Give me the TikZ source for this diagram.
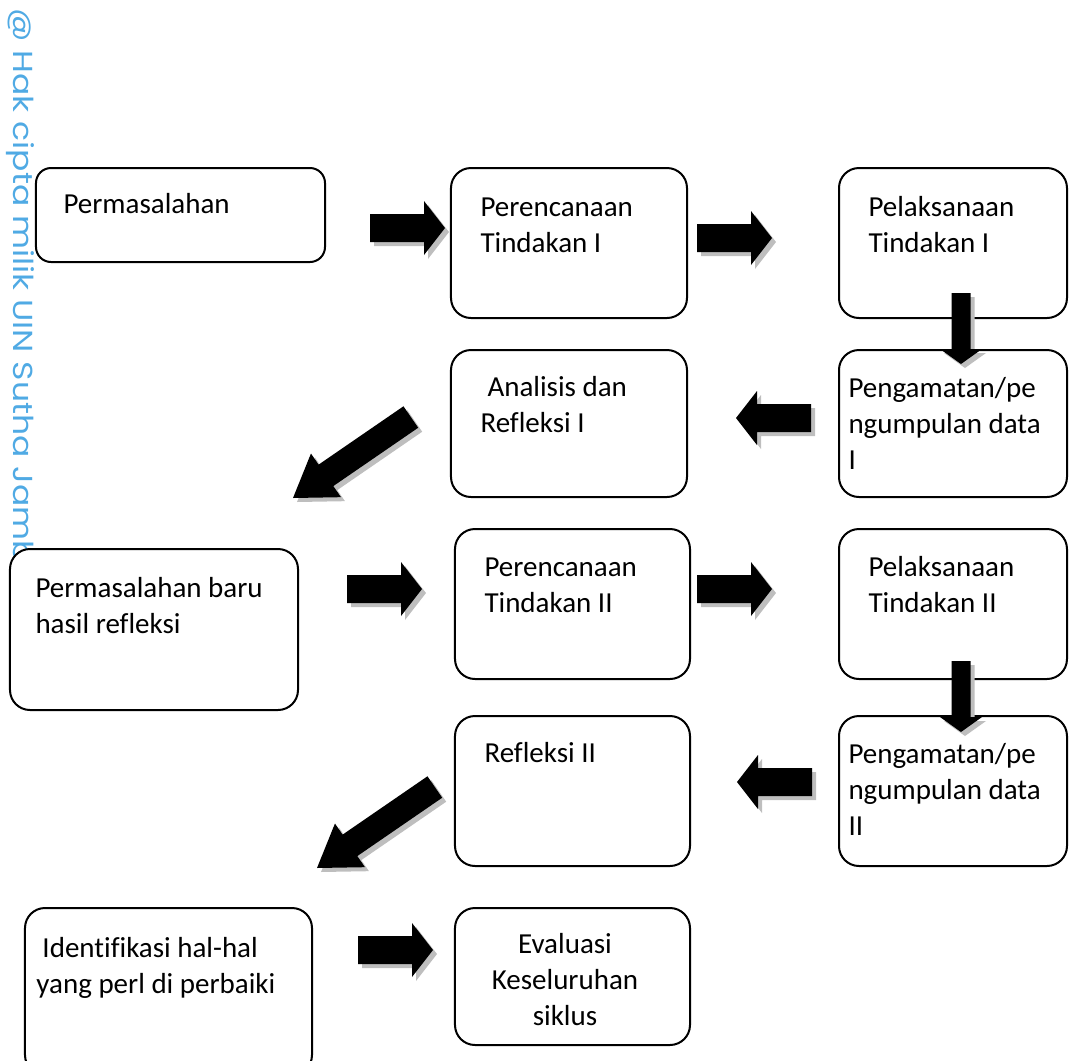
\documentclass[tikz,border=0pt]{standalone}
\usepackage{fontspec}
\usepackage{graphicx}
\setmainfont{Carlito}[Ligatures=NoCommon]
\newfontfamily\wmfont{Poppins}
\definecolor{wmblue}{RGB}{80,170,228}
\definecolor{shadowgray}{RGB}{190,190,190}
\newcommand\leftlines[1]{\begin{tabular}[t]{@{}l@{}}#1\end{tabular}}
\newcommand\centerlines[1]{\begin{tabular}[t]{@{}c@{}}#1\end{tabular}}
\tikzset{
  box/.style={draw, line width=0.8pt, fill=white, rounded corners=8pt, inner sep=0pt},
  lbl/.style={font=\fontsize{11.6}{14.4}\selectfont, anchor=base west, inner sep=0pt},
  clbl/.style={font=\fontsize{11.6}{14.4}\selectfont, anchor=base, inner sep=0pt},
  arrowbody/.style={fill=black},
  arrowshadow/.style={fill=shadowgray},
}
% #1 name, #2 x, #3 y (tip), #4 angle, #5 length, #6 shaft width, #7 head width, #8 head length (all in pt)
\newcommand\blockarrow[8]{%
  \coordinate (#1) at (#2,#3);
  \foreach \sty/\dx/\dy in {arrowshadow/1.6pt/-1.6pt, arrowbody/0pt/0pt}{
    \fill[\sty, shift={(#1)}, xshift=\dx, yshift=\dy, rotate=#4]
      (0pt,0pt) -- (-#8pt,#7pt/2) -- (-#8pt,#6pt/2) -- (-#5pt,#6pt/2)
      -- (-#5pt,-#6pt/2) -- (-#8pt,-#6pt/2) -- (-#8pt,-#7pt/2) -- cycle;
  }%
}
\newcommand\harrow[4]{\blockarrow{#1}{#2}{#3}{#4}{30}{11.2}{21.6}{8.4}}
\newcommand\varrow[3]{\blockarrow{#1}{#2}{#3}{-90}{28.4}{7.6}{16.8}{6}}
\newcommand\darrow[3]{\blockarrow{#1}{#2}{#3}{214.5}{57.2}{10.4}{21.2}{16}}
\begin{document}
\begin{tikzpicture}[x=0.4pt, y=-0.4pt]
\useasboundingbox (0,0) rectangle (1069,1061);
\clip (0,0) rectangle (1069,1061);
% watermark
\node[font=\wmfont\fontsize{11}{13}\selectfont, text=wmblue, rotate=-90, anchor=base west, inner sep=0pt] (wm) at (13,8) {\scalebox{1.2}[1]{@ Hak cipta milik UIN Sutha Jambi}};
% boxes
\node[box, rounded corners=6pt, minimum width=115.6pt, minimum height=37.6pt] (b1) at (180.5,215) {};
\node[box, minimum width=94.4pt, minimum height=60pt] (b2) at (569,243) {};
\node[box, minimum width=91.2pt, minimum height=60pt] (b3) at (953,243) {};
\node[box, minimum width=94.4pt, minimum height=58.8pt] (b4) at (569,423.5) {};
\node[box, minimum width=91.2pt, minimum height=58.8pt] (b5) at (953,423.5) {};
\node[box, minimum width=115.2pt, minimum height=64.4pt] (b6) at (154,629.5) {};
\node[box, minimum width=94pt, minimum height=60pt] (b7) at (572.5,604) {};
\node[box, minimum width=91.2pt, minimum height=60pt] (b8) at (953,604) {};
\node[box, minimum width=94pt, minimum height=60pt] (b9) at (572.5,791) {};
\node[box, minimum width=91.2pt, minimum height=60pt] (b10) at (953,791) {};
\node[box, minimum width=114.8pt, minimum height=66.8pt] (b11) at (168.5,991.5) {};
\node[box, minimum width=94pt, minimum height=54.8pt] (b12) at (572.5,976.5) {};
% labels
\node[lbl] (t1) at (63,213) {Permasalahan};
\node[lbl] (t2) at (480,216) {\leftlines{Perencanaan\\Tindakan I}};
\node[lbl] (t3) at (868,216) {\leftlines{Pelaksanaan\\Tindakan I}};
\node[lbl] (t4) at (480,396) {\leftlines{\hspace*{2.8pt}Analisis dan\\Refleksi I}};
\node[lbl] (t5) at (848,397) {\leftlines{Pengamatan/pe\\ngumpulan data\\I}};
\node[lbl] (t6) at (35,597) {\leftlines{Permasalahan baru\\hasil refleksi}};
\node[lbl] (t7) at (484,576) {\leftlines{Perencanaan\\Tindakan II}};
\node[lbl] (t8) at (868,576) {\leftlines{Pelaksanaan\\Tindakan II}};
\node[lbl] (t9) at (484,762) {Refleksi II};
\node[lbl] (t10) at (848,763) {\leftlines{Pengamatan/pe\\ngumpulan data\\II}};
\node[lbl] (t11) at (36,957) {\leftlines{\hspace*{2.4pt}Identifikasi hal-hal\\yang perl di perbaiki}};
\node[clbl] (t12) at (565,953) {\centerlines{Evaluasi\\Keseluruhan\\siklus}};
% block arrows (tip positions)
\harrow{a1}{445}{228}{0}
\harrow{a2}{772}{238}{0}
\varrow{a3}{961}{364}
\harrow{a4}{736}{418}{180}
\darrow{a5}{293}{498}
\harrow{a6}{422}{589}{0}
\harrow{a7}{772}{589}{0}
\varrow{a8}{961}{732}
\harrow{a9}{737}{782}{180}
\darrow{a10}{317}{868}
\harrow{a11}{433}{950}{0}
\end{tikzpicture}
\end{document}
